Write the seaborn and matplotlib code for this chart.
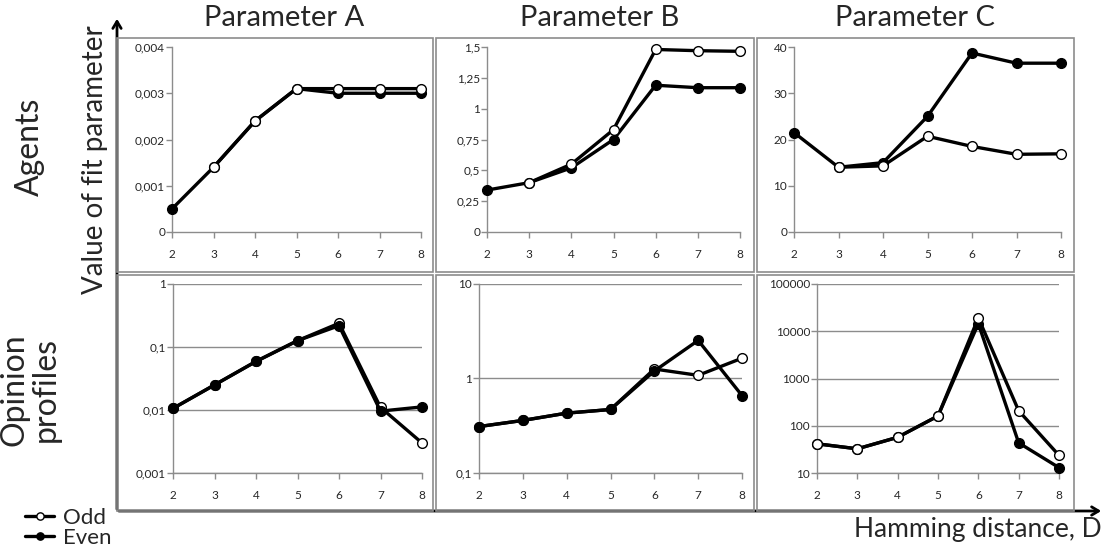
import matplotlib
matplotlib.use('Agg')
import matplotlib.pyplot as plt
import numpy as np
import seaborn as sns
from matplotlib.patches import Rectangle
from matplotlib.ticker import FixedLocator, FuncFormatter, NullLocator

# Hamming distance D
D = [2, 3, 4, 5, 6, 7, 8]

# Agents (top row), odd series has no point at D=2
agents_a_odd = [np.nan, 0.0014, 0.0024, 0.0031, 0.0031, 0.0031, 0.0031]
agents_a_even = [0.0005, 0.0014, 0.0024, 0.0031, 0.0030, 0.0030, 0.0030]
agents_b_odd = [np.nan, 0.40, 0.55, 0.83, 1.48, 1.47, 1.465]
agents_b_even = [0.34, 0.40, 0.52, 0.75, 1.19, 1.17, 1.17]
agents_c_odd = [np.nan, 14.0, 14.3, 20.7, 18.5, 16.8, 16.9]
agents_c_even = [21.5, 14.0, 15.0, 25.0, 38.7, 36.5, 36.5]

# Opinion profiles (bottom row, log scale)
profiles_a_odd = [0.0106, 0.025, 0.059, 0.126, 0.238, 0.011, 0.0030]
profiles_a_even = [0.0106, 0.025, 0.059, 0.126, 0.218, 0.0096, 0.0112]
profiles_b_odd = [0.31, 0.36, 0.43, 0.47, 1.26, 1.08, 1.64]
profiles_b_even = [0.31, 0.36, 0.43, 0.47, 1.20, 2.53, 0.66]
profiles_c_odd = [41.5, 32.5, 57, 161, 19200, 208, 23.6]
profiles_c_even = [41.5, 32.5, 57, 161, 14500, 43.5, 13]

titles = ['Parameter A', 'Parameter B', 'Parameter C']

W, H = 1111, 555
GRAY = '#8c8c8c'


def px_rect(x0, y0, x1, y1):
    return [x0 / W, 1 - y1 / H, (x1 - x0) / W, (y1 - y0) / H]


def comma_fmt(v, pos):
    return '{:g}'.format(v).replace('.', ',')


sns.set_style('white')
plt.rcParams['font.family'] = ['Lato', 'DejaVu Sans']

fig = plt.figure(figsize=(W / 100, H / 100), dpi=100)

# panel frames
boxes_x = [(117, 433), (436, 754), (757, 1074)]
boxes_y = [(38, 272), (275, 511)]
for (by0, by1) in boxes_y:
    for (bx0, bx1) in boxes_x:
        r = px_rect(bx0, by0, bx1, by1)
        fig.patches.append(Rectangle((r[0], r[1]), r[2], r[3], transform=fig.transFigure,
                                     fill=False, edgecolor=GRAY, linewidth=1.2))

top_axes = [(172, 47, 421, 232), (487, 47, 740, 232), (794, 47, 1061, 232)]
bot_axes = [(173, 284, 422, 473), (479, 284, 742, 473), (817, 284, 1059, 473)]

top_data = [(agents_a_odd, agents_a_even, [0, 0.001, 0.002, 0.003, 0.004]),
            (agents_b_odd, agents_b_even, [0, 0.25, 0.5, 0.75, 1, 1.25, 1.5]),
            (agents_c_odd, agents_c_even, [0, 10, 20, 30, 40])]
bot_data = [(profiles_a_odd, profiles_a_even, [0.001, 0.01, 0.1, 1], True),
            (profiles_b_odd, profiles_b_even, [0.1, 1, 10], True),
            (profiles_c_odd, profiles_c_even, [10, 100, 1000, 10000, 100000], False)]


def draw(ax, odd, even, odd_on_top):
    zo, ze = (4, 3) if odd_on_top else (3, 4)
    sns.lineplot(x=D, y=even, ax=ax, color='black', linewidth=2.4, marker='o',
                 markersize=7, markerfacecolor='black', markeredgecolor='black',
                 markeredgewidth=1, label='Even', zorder=ze, clip_on=False)
    sns.lineplot(x=D, y=odd, ax=ax, color='black', linewidth=2.4, marker='o',
                 markersize=7, markerfacecolor='white', markeredgecolor='black',
                 markeredgewidth=1, label='Odd', zorder=zo, clip_on=False)


def style(ax):
    ax.set_xlim(2, 8)
    ax.xaxis.set_major_locator(FixedLocator(D))
    for s in ['top', 'right']:
        ax.spines[s].set_visible(False)
    for s in ['left', 'bottom']:
        ax.spines[s].set_color(GRAY)
        ax.spines[s].set_linewidth(1.0)
    ax.tick_params(axis='x', direction='out', length=4, color=GRAY, width=1,
                   labelsize=8.5, pad=8, bottom=True)
    ax.tick_params(axis='y', direction='out', length=4, color=GRAY, width=1,
                   labelsize=8.5, pad=1, left=True)
    ax.set_xlabel('')
    ax.set_ylabel('')
    ax.patch.set_alpha(0)


all_axes = []
for rect, (odd, even, yt), title in zip(top_axes, top_data, titles):
    ax = fig.add_axes(px_rect(*rect))
    draw(ax, odd, even, True)
    style(ax)
    ax.set_ylim(yt[0], yt[-1])
    ax.yaxis.set_major_locator(FixedLocator(yt))
    ax.yaxis.set_major_formatter(FuncFormatter(comma_fmt))
    all_axes.append(ax)

for rect, (odd, even, yt, even_top) in zip(bot_axes, bot_data):
    ax = fig.add_axes(px_rect(*rect))
    draw(ax, odd, even, not even_top)
    ax.set_yscale('log')
    style(ax)
    ax.set_ylim(yt[0], yt[-1])
    ax.yaxis.set_major_locator(FixedLocator(yt))
    ax.yaxis.set_minor_locator(NullLocator())
    ax.yaxis.set_major_formatter(FuncFormatter(comma_fmt))
    ax.grid(axis='y', color=GRAY, linewidth=1.0)
    all_axes.append(ax)

handles, labels = all_axes[0].get_legend_handles_labels()
for ax in all_axes:
    if ax.get_legend() is not None:
        ax.get_legend().remove()

# big coordinate arrows
fig.add_artist(matplotlib.patches.FancyArrowPatch(
    (117 / W, 1 - 512 / H), (117 / W, 1 - 16 / H), transform=fig.transFigure,
    arrowstyle='->,head_length=5,head_width=3', color='black', linewidth=2))
fig.add_artist(matplotlib.patches.FancyArrowPatch(
    (116 / W, 1 - 511 / H), (1104 / W, 1 - 511 / H), transform=fig.transFigure,
    arrowstyle='->,head_length=5,head_width=3', color='black', linewidth=2))

# titles and labels
for cx, t in zip([284, 600, 915], titles):
    fig.text(cx / W, 1 - 18 / H, t, ha='center', va='center', fontsize=21)
fig.text(30 / W, 1 - 147 / H, 'Agents', rotation=90, ha='center', va='center', fontsize=23)
fig.text(30 / W, 1 - 390 / H, 'Opinion\nprofiles', rotation=90, ha='center', va='center',
         fontsize=23, linespacing=1.05)
fig.text(95 / W, 1 - 160 / H, 'Value of fit parameter', rotation=90, ha='center',
         va='center', fontsize=20)
fig.text(1102 / W, 1 - 530 / H, 'Hamming distance, D', ha='right', va='center', fontsize=19)

order = [labels.index('Odd'), labels.index('Even')]
fig.legend([handles[i] for i in order], ['Odd', 'Even'], loc='center left',
           bbox_to_anchor=(14 / W, 1 - 528 / H), frameon=False, fontsize=16,
           handlelength=1.3, handletextpad=0.4, labelspacing=0.0, borderpad=0,
           markerscale=0.75)

fig.savefig('out.png', dpi=100)
